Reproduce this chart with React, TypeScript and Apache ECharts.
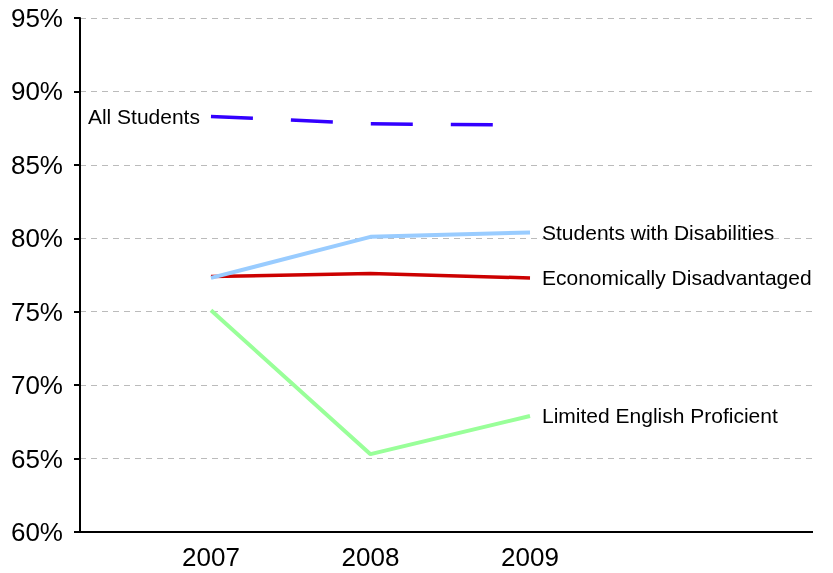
import React, { useEffect, useRef } from "react";
import * as echarts from "echarts";

const years = [2007, 2008, 2009];
const yTicks = [60, 65, 70, 75, 80, 85, 90, 95];
const allStudents = [88.3, 87.8, 87.7];
const disabilities = [77.3, 80.1, 80.4];
const econDisadv = [77.4, 77.6, 77.3];
const lep = [75.1, 65.3, 67.9];

const FONT = "Liberation Sans, Arial, sans-serif";

export default function App() {
  const ref = useRef<HTMLDivElement>(null);
  useEffect(() => {
    if (!ref.current) return;
    const chart = echarts.init(ref.current, null, { renderer: "svg" });
    const pts = (vals: number[]) => years.map((y, i) => [y, vals[i]]);
    const endLbl = (name: string) => ({
      show: true,
      formatter: name,
      distance: 12,
      color: "#000",
      fontSize: 21,
      fontFamily: FONT,
    });
    chart.setOption({
      animation: false,
      grid: { left: 80, right: 20, top: 18, bottom: 41, containLabel: false },
      xAxis: {
        type: "value",
        min: 2006.179,
        max: 2010.774,
        axisLine: { show: false },
        axisTick: { show: false },
        splitLine: { show: false },
        axisLabel: {
          customValues: years,
          formatter: (v: number) => String(v),
          color: "#000",
          fontSize: 26,
          fontFamily: FONT,
          margin: 12,
        },
      },
      yAxis: {
        type: "value",
        min: 60,
        max: 95,
        interval: 5,
        axisLine: { show: true, lineStyle: { color: "#000", width: 2 } },
        axisTick: { show: true, inside: false, length: 6, lineStyle: { color: "#000", width: 2 } },
        axisLabel: {
          formatter: (v: number) => (yTicks.includes(v) ? v + "%" : ""),
          color: "#000",
          fontSize: 26,
          fontFamily: FONT,
          margin: 17,
        },
        splitLine: { show: true, lineStyle: { color: "#bbbbbb", type: [6, 5], width: 1 } },
      },
      series: [
        {
          type: "line",
          name: "All Students",
          data: pts(allStudents).map((p, i) =>
            i === 0
              ? {
                  value: p,
                  label: {
                    show: true,
                    position: "left",
                    distance: 11,
                    formatter: "All Students",
                    color: "#000",
                    fontSize: 21,
                    fontFamily: FONT,
                  },
                }
              : { value: p }
          ),
          showSymbol: true,
          symbol: "circle",
          symbolSize: 0,
          lineStyle: { color: "#3300ff", width: 3.5, type: [42, 38] },
          itemStyle: { color: "#3300ff" },
          z: 5,
        },
        {
          type: "line",
          name: "Students with Disabilities",
          data: pts(disabilities),
          symbol: "none",
          lineStyle: { color: "#99ccff", width: 4 },
          endLabel: endLbl("Students with Disabilities"),
          z: 4,
        },
        {
          type: "line",
          name: "Economically Disadvantaged",
          data: pts(econDisadv),
          symbol: "none",
          lineStyle: { color: "#cc0000", width: 3.5 },
          endLabel: endLbl("Economically Disadvantaged"),
          z: 3,
        },
        {
          type: "line",
          name: "Limited English Proficient",
          data: pts(lep),
          symbol: "none",
          lineStyle: { color: "#99ff99", width: 4 },
          endLabel: endLbl("Limited English Proficient"),
          z: 2,
        },
      ],
      graphic: [
        {
          type: "line",
          shape: { x1: 80, y1: 532, x2: 813, y2: 532 },
          style: { stroke: "#000", lineWidth: 2 },
          z: 1,
        },
      ],
    });
    return () => chart.dispose();
  }, []);
  return (
    <div
      ref={ref}
      style={{ position: "fixed", left: 0, top: 0, width: 833, height: 573 }}
    />
  );
}
